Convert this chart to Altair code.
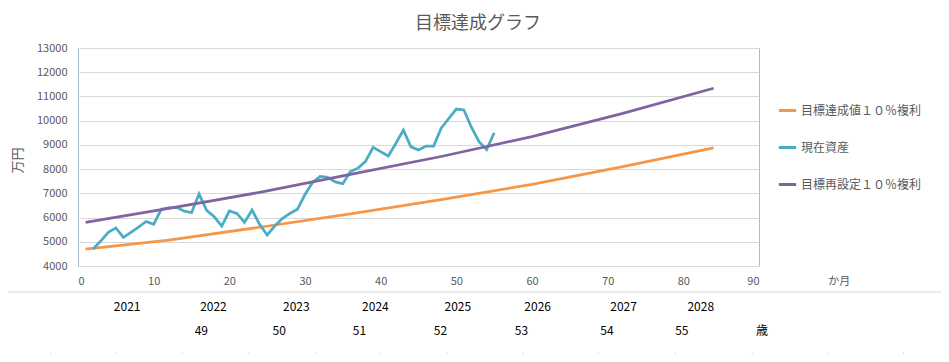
import altair as alt
import pandas as pd

FONT = "Noto Sans CJK JP"
GRAY = "#595959"

chart_title = "目標達成グラフ"
s_goal = "目標達成値１０％複利"
s_asset = "現在資産"
s_reset = "目標再設定１０％複利"

# target lines (month, value)
goal_months = [1, 12, 24, 36, 48, 60, 72, 84]
goal_values = [4700, 5070, 5600, 6150, 6740, 7370, 8100, 8880]
reset_values = [5800, 6380, 7040, 7780, 8520, 9340, 10300, 11340]

# current assets, monthly from month 2 to 55
asset_months = list(range(2, 56))
asset_values = [4700, 5030, 5390, 5570, 5180, 5390, 5610, 5840, 5720, 6340,
                6400, 6420, 6270, 6200, 6970, 6300, 6030, 5650, 6270, 6170,
                5800, 6310, 5720, 5280, 5650, 5960, 6170, 6340, 6950, 7450,
                7700, 7660, 7470, 7400, 7900, 8040, 8320, 8900, 8720, 8540,
                9060, 9610, 8920, 8790, 8950, 8950, 9690, 10090, 10480, 10440,
                9720, 9130, 8810, 9500]

x_ticks = [0, 10, 20, 30, 40, 50, 60, 70, 80, 90]
y_ticks = [4000, 5000, 6000, 7000, 8000, 9000, 10000, 11000, 12000, 13000]

# spreadsheet rows under the chart (positions in month units of the x scale)
years = ["2021", "2022", "2023", "2024", "2025", "2026", "2027", "2028"]
year_pos = [6.5, 17.9, 28.85, 39.3, 50.2, 60.75, 72.1, 82.3]
ages = ["49", "50", "51", "52", "53", "54", "55", "歳"]
age_pos = [16.3, 26.6, 37.2, 47.9, 58.6, 69.9, 79.8, 90.4]
cell_edges = [-3.6, 5.0, 13.8, 22.5, 31.4, 40.0, 48.8, 58.8, 68.8, 78.9, 89.1, 99.0, 109.1]

series_order = [s_goal, s_asset, s_reset]
colors = ["#F79646", "#4BACC6", "#8064A2"]

df = pd.concat([
    pd.DataFrame({"month": goal_months, "value": goal_values, "series": s_goal}),
    pd.DataFrame({"month": asset_months, "value": asset_values, "series": s_asset}),
    pd.DataFrame({"month": goal_months, "value": reset_values, "series": s_reset}),
])

xs = alt.Scale(domain=[0, 90], nice=False)
ys = alt.Scale(domain=[4000, 13000], nice=False)

x_enc = alt.X("month:Q", scale=xs, axis=alt.Axis(values=x_ticks, title=None, grid=False,
              ticks=False, domain=False, labelPadding=9, labelFontSize=11,
              labelColor=GRAY, labelFont=FONT))
y_enc = alt.Y("value:Q", scale=ys, axis=alt.Axis(values=y_ticks, format="d", title="万円", grid=True,
              gridColor="#D9D9D9", ticks=False, domain=False, labelPadding=11,
              labelFontSize=11, labelColor=GRAY, labelFont=FONT,
              titleFontSize=13, titleColor=GRAY, titleFont=FONT, titleFontWeight="normal",
              titleAngle=270, titleX=-61, titleY=112, titleAlign="center",
              titleBaseline="middle"))
color_enc = alt.Color("series:N", scale=alt.Scale(domain=series_order, range=colors),
                      legend=alt.Legend(title=None, orient="none", legendX=699, legendY=52,
                                        symbolType="stroke", symbolSize=300,
                                        symbolStrokeWidth=3, labelFontSize=12,
                                        labelColor=GRAY, labelFont=FONT, rowPadding=20,
                                        labelOffset=3, padding=0))

def line_for(name):
    return alt.Chart(df).transform_filter(alt.datum.series == name).mark_line(
        strokeWidth=2.75).encode(x=x_enc, y=y_enc, color=color_enc)

lines = [line_for(s) for s in series_order]

title_text = alt.Chart(pd.DataFrame({"t": [chart_title]})).mark_text(
    font=FONT, fontSize=18, color=GRAY, baseline="middle", align="center").encode(
    x=alt.value(400), y=alt.value(-24), text="t:N")

kagetsu = alt.Chart(pd.DataFrame({"t": ["か月"], "m": [100.6]})).mark_text(
    font=FONT, fontSize=11, color=GRAY, baseline="middle").encode(
    x=alt.X("m:Q", scale=xs), y=alt.value(234), text="t:N")

year_df = pd.DataFrame({"t": years, "m": year_pos})
year_text = alt.Chart(year_df).mark_text(font=FONT, fontSize=12, color="#000000",
                                         baseline="middle").encode(
    x=alt.X("m:Q", scale=xs), y=alt.value(259), text="t:N")

age_df = pd.DataFrame({"t": ages, "m": age_pos})
age_text = alt.Chart(age_df).mark_text(font=FONT, fontSize=12, color="#000000",
                                       baseline="middle").encode(
    x=alt.X("m:Q", scale=xs), y=alt.value(283), text="t:N")

edge_df = pd.DataFrame({"m": cell_edges})
edges = alt.Chart(edge_df).mark_rule(color="#E3E3E3", strokeWidth=1).encode(
    x=alt.X("m:Q", scale=xs), y=alt.value(304), y2=alt.value(316))

bottom_border = alt.Chart(pd.DataFrame({"a": [0]})).mark_rule(
    color="#D9D9D9", strokeWidth=1).encode(
    x=alt.value(-77), x2=alt.value(880), y=alt.value(244))
left_border = alt.Chart(pd.DataFrame({"a": [0]})).mark_rule(
    color="#D9D9D9", strokeWidth=1).encode(
    x=alt.value(-77), y=alt.value(-48), y2=alt.value(244))

chart = alt.layer(*lines, title_text, kagetsu, year_text, age_text, edges,
                  bottom_border, left_border).properties(
    width=681, height=218,
    autosize=alt.AutoSizeParams(type="none"),
    padding={"left": 70, "top": 40, "right": 182, "bottom": 88},
    background="white",
).configure_view(stroke="#A7BAD6", strokeWidth=1)

chart.save("out.html", embed_options={"renderer": "svg", "actions": False})
